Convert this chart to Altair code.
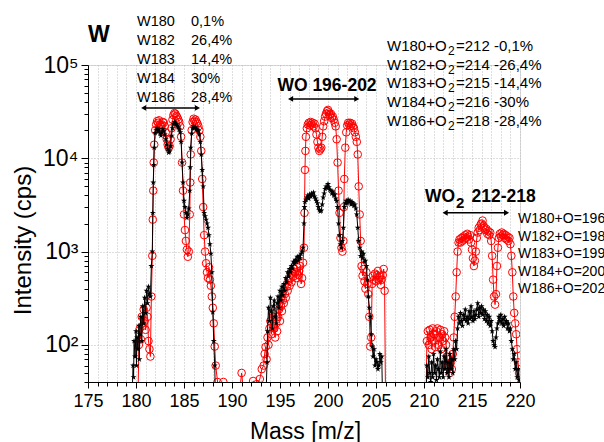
import altair as alt
import pandas as pd

FONT = "Liberation Sans"

# ---------------- data ----------------
# red circles
red_w_mass = [180.2, 180.3, 180.4, 180.5, 180.6, 180.7, 180.8, 180.9, 181.0, 181.1,
              181.2, 181.3, 181.4, 181.5, 181.6, 181.7, 181.75, 181.8, 181.85, 181.9,
              182.0, 182.1, 182.2, 182.3, 182.4, 182.5, 182.6, 182.7, 182.8, 182.9,
              183.0, 183.1, 183.2, 183.3, 183.4, 183.5, 183.6, 183.7, 183.8, 183.9,
              184.0, 184.1, 184.2, 184.3, 184.4, 184.5, 184.6, 184.7, 184.8, 184.9,
              185.0, 185.1, 185.2, 185.3, 185.4, 185.5, 185.6, 185.65, 185.7, 185.8,
              185.9, 186.0, 186.1, 186.2, 186.3, 186.4, 186.5, 186.6, 186.7, 186.8,
              186.9, 187.0, 187.1, 187.2, 187.3, 187.4, 187.5, 187.6, 187.7, 187.8,
              187.9, 188.0, 188.1, 188.2, 188.3, 188.5, 188.6,
              189.1, 189.5, 190.6, 191.0, 191.4, 191.9, 192.2, 192.6]
red_w_int = [25, 100, 150, 115, 200, 160, 240, 180, 145, 250,
             200, 110, 90, 75, 330, 900, 2200, 4500, 9000, 14000,
             20000, 23000, 25000, 24000, 25500, 23000, 22000, 23000, 24500, 24000,
             22000, 19000, 16000, 14000, 13000, 13500, 16000, 21000, 26000, 29000,
             30500, 30000, 28500, 27500, 26000, 24500, 22000, 17000, 9000, 4500,
             2500, 1700, 1300, 1050, 880, 1000, 2500, 5500, 11000, 20000,
             24500, 26500, 25000, 26000, 24500, 23500, 22000, 20000, 17000, 12000,
             6000, 3000, 1500, 1000, 750, 600, 520, 680, 500, 430,
             330, 250, 170, 96, 60, 40, 20,
             40, 20, 20, 50, 20, 20, 41, 38]

red_wo_mass = [192.9, 193.1, 193.3, 193.4, 193.5, 193.6, 193.7, 193.8, 193.9, 194.0,
               194.1, 194.2, 194.3, 194.4, 194.5, 194.6, 194.7, 194.8, 194.9, 195.0,
               195.1, 195.2, 195.3, 195.4, 195.5, 195.6, 195.7, 195.8, 195.9, 196.0,
               196.1, 196.2, 196.3, 196.4, 196.5, 196.6, 196.7, 196.8, 196.9, 197.0,
               197.1, 197.2, 197.3, 197.4, 197.5, 197.55, 197.6, 197.65, 197.7, 197.8,
               197.9, 198.0, 198.1, 198.2, 198.3, 198.4, 198.5, 198.6, 198.7, 198.8,
               198.9, 199.0, 199.1, 199.2, 199.3, 199.4, 199.5, 199.6, 199.7, 199.8,
               199.9, 200.0, 200.1, 200.2, 200.3, 200.4, 200.5, 200.6, 200.7, 200.8,
               200.9, 201.0, 201.1, 201.2, 201.3, 201.4, 201.5, 201.6, 201.65, 201.7,
               201.8, 201.9, 202.0, 202.1, 202.2, 202.3, 202.4, 202.5, 202.6, 202.7,
               202.8, 202.9, 203.0, 203.1, 203.2, 203.3, 203.4, 203.5, 203.6, 203.7,
               203.8, 203.9, 204.0, 204.1, 204.2, 204.3, 204.4, 204.5, 204.6, 204.7,
               204.8, 204.9, 205.0, 205.1, 205.2, 205.3, 205.4, 205.5, 205.6, 205.7,
               205.8, 205.9, 206.0]
red_wo_int = [43, 55, 60, 80, 95, 70, 120, 100, 150, 180,
              130, 220, 200, 150, 120, 170, 140, 200, 240, 180,
              260, 230, 300, 280, 350, 320, 420, 380, 480, 430,
              520, 470, 580, 540, 650, 600, 520, 680, 560, 620,
              700, 450, 520, 760, 1100, 2600, 7500, 12000, 17000, 21000,
              23000, 24000, 22500, 24500, 23000, 24000, 22000, 23500, 21000, 18000,
              15000, 13000, 12000, 12500, 13000, 17000, 22000, 25000, 28000, 30000,
              32000, 33000, 31000, 29000, 30000, 27000, 28000, 26000, 24000, 22000,
              16000, 9000, 4500, 2600, 1400, 1100, 1000, 1300, 3000, 6000,
              13000, 19000, 22500, 24000, 23000, 24000, 22500, 23500, 22000, 21000,
              19000, 17000, 15000, 11000, 5000, 2500, 1300, 700, 550, 650,
              480, 400, 600, 450, 350, 200, 96, 120, 450, 550,
              500, 580, 480, 560, 620, 500, 540, 440, 500, 560,
              650, 380, 20]

red_wo2_mass = [210.2, 210.3, 210.4, 210.5, 210.6, 210.7, 210.8, 210.9, 211.0, 211.1,
                211.2, 211.3, 211.4, 211.5, 211.6, 211.7, 211.8, 211.9, 212.0, 212.1,
                212.2, 212.3, 212.4, 212.5, 212.6, 212.7, 212.8, 212.9, 213.0, 213.1,
                213.2, 213.3, 213.4, 213.5, 213.6, 213.7, 213.8, 213.9, 214.0, 214.1,
                214.2, 214.3, 214.4, 214.5, 214.6, 214.7, 214.8, 214.9, 215.0, 215.1,
                215.2, 215.3, 215.4, 215.5, 215.6, 215.7, 215.8, 215.9, 216.0, 216.1,
                216.2, 216.3, 216.4, 216.5, 216.6, 216.7, 216.8, 216.9, 217.0, 217.1,
                217.2, 217.3, 217.4, 217.5, 217.6, 217.7, 217.8, 217.9, 218.0, 218.1,
                218.2, 218.3, 218.4, 218.5, 218.6, 218.7, 218.8, 218.9, 219.0, 219.1,
                219.2, 219.3, 219.4, 219.5, 219.6, 219.7, 219.8, 219.9, 220.0]
red_wo2_int = [20, 110, 140, 100, 145, 120, 90, 150, 110, 130,
               95, 140, 150, 100, 120, 145, 90, 130, 110, 140,
               120, 100, 75, 60, 70, 50, 65, 55, 80, 120,
               200, 330, 600, 1000, 1250, 1350, 1250, 1400, 1300, 1450,
               1350, 1500, 1400, 1550, 1450, 1350, 1500, 1250, 1050, 850,
               700, 800, 1000, 1400, 1600, 1800, 1700, 1950, 2000, 2150,
               1900, 1800, 1700, 1750, 1550, 1650, 1500, 1600, 1300, 900,
               500, 330, 270, 350, 700, 1100, 1400, 1550, 1450, 1600,
               1500, 1550, 1400, 1500, 1350, 1450, 1300, 1400, 1200, 900,
               600, 330, 220, 170, 130, 90, 65, 50, 20]

# black stars
black_w_mass = [179.6, 179.7, 179.75, 179.8, 179.9, 180.0, 180.05, 180.1, 180.2, 180.3,
                180.35, 180.4, 180.5, 180.6, 180.7, 180.8, 180.9, 181.0, 181.1, 181.2,
                181.3, 181.4, 181.5, 181.6, 181.7, 181.75, 181.8, 181.85, 181.9, 182.0,
                182.1, 182.2, 182.3, 182.4, 182.5, 182.6, 182.7, 182.8, 182.9, 183.0,
                183.1, 183.2, 183.3, 183.4, 183.5, 183.6, 183.7, 183.8, 183.9, 184.0,
                184.1, 184.2, 184.3, 184.4, 184.5, 184.6, 184.7, 184.8, 184.9, 185.0,
                185.1, 185.2, 185.3, 185.4, 185.5, 185.6, 185.65, 185.7, 185.8, 185.9,
                186.0, 186.1, 186.2, 186.3, 186.4, 186.5, 186.6, 186.7, 186.8, 186.9,
                187.0, 187.1, 187.2, 187.3, 187.4, 187.5, 187.6, 187.7, 187.8, 187.9,
                188.0, 188.1, 188.2, 188.3]
black_w_int = [30, 60, 45, 110, 75, 140, 60, 120, 90, 160,
               70, 130, 200, 110, 260, 170, 320, 220, 380, 280,
               420, 350, 330, 700, 1000, 2600, 5500, 8500, 13000, 18700,
               20000, 21000, 19500, 20500, 18500, 17500, 19000, 20500, 19500, 18000,
               16000, 14000, 12500, 11500, 11800, 13500, 17500, 21000, 23500, 24500,
               24000, 23000, 22500, 21500, 20500, 19000, 15000, 9000, 5500, 3500,
               3000, 2600, 2300, 2500, 2900, 4500, 8000, 13000, 18500, 21000,
               22000, 21000, 21500, 20500, 20000, 19500, 18000, 15000, 11000, 7500,
               5000, 2600, 2400, 2200, 2000, 1800, 1500, 1200, 950, 600,
               224, 110, 60, 20]

black_wo_mass = [193.5, 193.65, 193.7, 193.8, 193.9, 194.0, 194.1, 194.2, 194.3, 194.4,
                 194.5, 194.6, 194.7, 194.8, 194.9, 195.0, 195.1, 195.2, 195.3, 195.4,
                 195.5, 195.6, 195.7, 195.8, 195.9, 196.0, 196.1, 196.2, 196.3, 196.4,
                 196.5, 196.6, 196.7, 196.8, 196.9, 197.0, 197.1, 197.2, 197.3, 197.4,
                 197.5, 197.55, 197.6, 197.7, 197.8, 197.9, 198.0, 198.1, 198.2, 198.3,
                 198.4, 198.5, 198.6, 198.7, 198.8, 198.9, 199.0, 199.1, 199.2, 199.3,
                 199.4, 199.5, 199.6, 199.7, 199.8, 199.9, 200.0, 200.1, 200.2, 200.3,
                 200.4, 200.5, 200.6, 200.7, 200.8, 200.9, 201.0, 201.1, 201.2, 201.3,
                 201.4, 201.5, 201.6, 201.7, 201.8, 201.9, 202.0, 202.1, 202.2, 202.3,
                 202.4, 202.5, 202.6, 202.7, 202.8, 202.9, 203.0, 203.1, 203.2, 203.3,
                 203.4, 203.5, 203.6, 203.7, 203.8, 203.9, 204.0, 204.1, 204.2, 204.3,
                 204.4, 204.5, 204.6, 204.7, 204.8, 204.9, 205.0, 205.1, 205.2, 205.3,
                 205.4, 205.5, 205.6, 205.7]
black_wo_int = [20, 65, 140, 250, 180, 320, 230, 150, 260, 300,
                200, 170, 280, 330, 250, 380, 300, 420, 340, 450,
                380, 520, 470, 600, 540, 650, 600, 700, 660, 780,
                740, 820, 780, 880, 800, 900, 850, 950, 1000, 1100,
                2000, 3000, 3400, 3600, 3800, 4000, 3700, 4100, 3900, 4200,
                4000, 4300, 3900, 3700, 3500, 3300, 3000, 2800, 2700, 2750,
                3200, 3800, 4200, 4700, 5000, 4800, 5300, 4900, 4600, 4500,
                4200, 4400, 4000, 4100, 3700, 3500, 3000, 2000, 1500, 1200,
                1100, 1300, 1800, 3000, 3300, 3500, 3300, 3600, 3400, 3500,
                3200, 3400, 3300, 3100, 3200, 2900, 2500, 1800, 1300, 1100,
                900, 1000, 850, 950, 780, 800, 700, 500, 330, 250,
                200, 130, 96, 75, 90, 60, 70, 65, 55, 60,
                80, 65, 75, 20]

black_wo2_mass = [210.2, 210.3, 210.4, 210.5, 210.6, 210.7, 210.8, 210.9, 211.0, 211.1,
                  211.2, 211.3, 211.4, 211.5, 211.6, 211.7, 211.8, 211.9, 212.0, 212.1,
                  212.2, 212.3, 212.4, 212.5, 212.6, 212.7, 212.8, 212.9, 213.0, 213.1,
                  213.2, 213.3, 213.4, 213.5, 213.6, 213.7, 213.8, 213.9, 214.0, 214.1,
                  214.2, 214.3, 214.4, 214.5, 214.6, 214.7, 214.8, 214.9, 215.0, 215.1,
                  215.2, 215.3, 215.4, 215.5, 215.6, 215.7, 215.8, 215.9, 216.0, 216.1,
                  216.2, 216.3, 216.4, 216.5, 216.6, 216.7, 216.8, 216.9, 217.0, 217.1,
                  217.2, 217.3, 217.4, 217.5, 217.6, 217.7, 217.8, 217.9, 218.0, 218.1,
                  218.2, 218.3, 218.4, 218.5, 218.6, 218.7, 218.8, 218.9, 219.0, 219.1,
                  219.2, 219.3, 219.4, 219.5, 219.6, 219.7, 219.8, 219.9, 220.0]
black_wo2_int = [20, 60, 45, 75, 50, 40, 65, 45, 80, 50,
                 60, 42, 70, 55, 45, 85, 50, 65, 45, 75,
                 55, 90, 50, 65, 45, 80, 55, 70, 50, 90,
                 70, 110, 90, 150, 200, 170, 220, 180, 160, 210,
                 190, 240, 180, 200, 170, 230, 190, 260, 200, 180,
                 230, 190, 210, 240, 280, 200, 250, 220, 260, 210,
                 240, 190, 230, 180, 210, 170, 200, 160, 180, 140,
                 110, 100, 95, 120, 150, 170, 200, 180, 210, 170,
                 190, 160, 200, 170, 180, 150, 170, 140, 150, 110,
                 90, 70, 80, 55, 65, 45, 55, 42, 20]

# axis ticks and annotation texts
x_tick_values = list(range(175, 221))
y_tick_values = [40, 50, 60, 70, 80, 90,
                 100, 200, 300, 400, 500, 600, 700, 800, 900,
                 1000, 2000, 3000, 4000, 5000, 6000, 7000, 8000, 9000,
                 10000, 20000, 30000, 40000, 50000, 60000, 70000, 80000, 90000, 100000]
decade_labels = {100: "10²", 1000: "10³", 10000: "10⁴", 100000: "10⁵"}

w_isotopes = ["W180", "W182", "W183", "W184", "W186"]
w_abundance = ["0,1%", "26,4%", " 14,4%", "30%", "28,4%"]
wo2_prefix = ["W180+O", "W182+O", "W183+O", "W184+O", "W186+O"]
wo2_suffix = ["=212 -0,1%", "=214 -26,4%", "=215 -14,4%", "=216 -30%", "=218  -28,4%"]
wo_lines = ["W180+O=196", "W182+O=198", "W183+O=199", "W184+O=200", "W186+O=202"]
arrow_start = [180.8, 196.1, 212.2]
arrow_end = [186.4, 203.0, 218.6]
arrow_level = [34700, 43300, 2610]

# ---------------- chart ----------------
red = pd.DataFrame({"mass": red_w_mass + red_wo_mass + red_wo2_mass,
                    "intensity": red_w_int + red_wo_int + red_wo2_int})
black = pd.DataFrame({"mass": black_w_mass + black_wo_mass + black_wo2_mass,
                      "intensity": black_w_int + black_wo_int + black_wo2_int})
arrows = pd.DataFrame({"start": arrow_start, "end": arrow_end, "level": arrow_level})
dummy = pd.DataFrame({"k": [0]})

xscale = alt.Scale(domain=[175, 220], nice=False, zero=False)
yscale = alt.Scale(type="log", domain=[40, 100000], nice=False)

decade_test = "indexof([100,1000,10000,100000], datum.value) >= 0"
label_expr = " : ".join(f"datum.value == {k} ? '{v}'" for k, v in decade_labels.items()) + " : ''"

x_axis = alt.Axis(
    values=x_tick_values,
    labelExpr="datum.value % 5 === 0 ? datum.label : ''",
    labelFontSize=18, labelFont=FONT, labelColor="black", labelPadding=4,
    labelOverlap=False, labelFlush=False,
    tickSize={"condition": {"test": "datum.value % 5 === 0", "value": 6}, "value": 4},
    tickColor="black", tickWidth=1, domainColor="black", domainWidth=1,
    grid=True, gridColor="#bdbdbd", gridDash=[1, 2], gridWidth=1,
    title="Mass [m/z]", titleFontSize=23, titleFontWeight="normal", titleFont=FONT,
    titleColor="black", titleX=217, titleY=56, titleAlign="center", titleBaseline="alphabetic",
)
y_axis = alt.Axis(
    values=y_tick_values,
    labelExpr=label_expr,
    labelFontSize=23, labelFont=FONT, labelColor="black", labelPadding=3,
    labelOverlap=False, labelFlush=False, labelBaseline="middle",
    tickSize={"condition": {"test": decade_test, "value": 7}, "value": 4},
    tickColor="black", tickWidth=1, domainColor="black", domainWidth=1,
    grid=True, gridColor="#bdbdbd", gridDash=[1, 2], gridWidth=1,
    gridOpacity={"condition": {"test": decade_test, "value": 1}, "value": 0},
    title="Intensity (cps)", titleFontSize=24, titleFontWeight="normal", titleFont=FONT,
    titleColor="black", titleAngle=270, titleX=-65, titleY=175,
    titleAlign="center", titleBaseline="middle",
)

X = alt.X("mass:Q", scale=xscale, axis=x_axis)
Y = alt.Y("intensity:Q", scale=yscale, axis=y_axis)

STAR = ("M0,-1L0.2245,-0.309L0.951,-0.309L0.363,0.118L0.588,0.809L0,0.382"
        "L-0.588,0.809L-0.363,0.118L-0.951,-0.309L-0.2245,-0.309Z")

red_line = alt.Chart(red).mark_line(color="#ff0000", strokeWidth=1, clip=True).encode(x=X, y=Y)
red_pts = alt.Chart(red).mark_point(shape="circle", filled=False, color="#ff0000",
                                    size=58, strokeWidth=1, clip=True, opacity=1).encode(x=X, y=Y)
black_line = alt.Chart(black).mark_line(color="black", strokeWidth=1, clip=True).encode(x=X, y=Y)
black_pts = alt.Chart(black).mark_point(shape=STAR, filled=True, color="black",
                                        size=40, clip=True, opacity=1).encode(x=X, y=Y)

AX = alt.X("start:Q", scale=xscale, axis=x_axis)
AY = alt.Y("level:Q", scale=yscale, axis=y_axis)
arrow_rule = alt.Chart(arrows).mark_rule(color="black", strokeWidth=1.5).encode(x=AX, x2="end:Q", y=AY)
head_l = alt.Chart(arrows).mark_point(shape="triangle-left", filled=True, color="black",
                                      size=35, opacity=1).encode(x=AX, y=AY)
head_r = alt.Chart(arrows).mark_point(shape="triangle-right", filled=True, color="black",
                                      size=35, opacity=1).encode(
    x=alt.X("end:Q", scale=xscale, axis=x_axis), y=AY)


def text(lines, x, y, size, weight="normal", line_height=None, align="left"):
    kw = dict(text=lines if len(lines) > 1 else lines[0], fontSize=size, fontWeight=weight,
              align=align, baseline="alphabetic", font=FONT, color="black")
    if line_height is not None:
        kw["lineHeight"] = line_height
    return alt.Chart(dummy).mark_text(**kw).encode(x=alt.value(x), y=alt.value(y))


texts = [
    text(["W"], 0, -23, 23, "bold"),
    text(w_isotopes, 49, -39, 14.5, line_height=19),
    text(w_abundance, 103, -39, 14.5, line_height=19),
    text(["WO 196-202"], 239, 26, 17.5, "bold", align="center"),
    text(wo2_prefix, 299, -14, 15, line_height=18.7),
    text(["2"] * 5, 360, -10, 12, line_height=18.7),
    text(wo2_suffix, 368, -14, 15, line_height=18.7),
    text(["WO"], 337, 136.5, 17.5, "bold"),
    text(["2"], 368, 143, 15, "bold"),
    text(["212-218"], 383.5, 136.5, 17.5, "bold"),
    text(wo_lines, 430, 158, 14, line_height=17.5),
]

chart = alt.layer(red_line, red_pts, black_line, black_pts, arrow_rule, head_l, head_r, *texts).properties(
    width=432, height=317,
    autosize=alt.AutoSizeParams(type="none"),
    padding={"left": 88, "top": 65, "right": 84, "bottom": 60},
).configure_view(stroke=None).configure(font=FONT)

chart.save("out.html", embed_options={"renderer": "svg", "actions": False})
